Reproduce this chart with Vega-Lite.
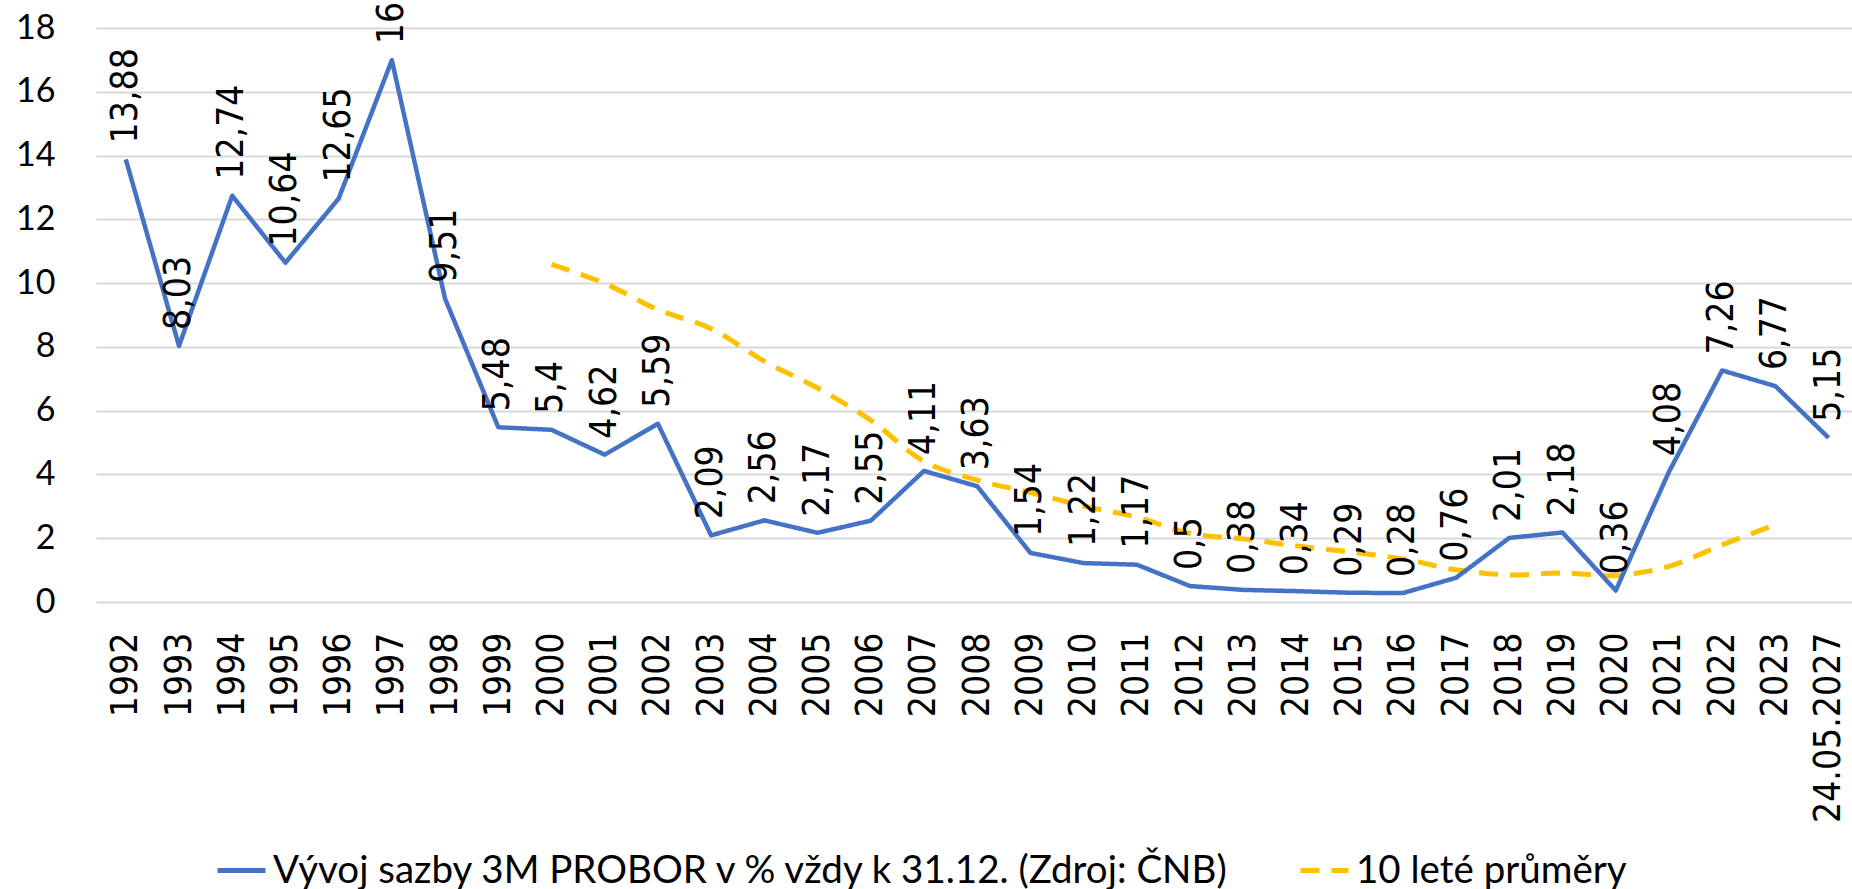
{
  "$schema": "https://vega.github.io/schema/vega-lite/v6.json",
  "width": 1756,
  "height": 574,
  "autosize": {"type": "none"},
  "padding": {"left": 96, "top": 28, "right": 0, "bottom": 287},
  "background": "white",
  "config": {
    "view": {"stroke": null},
    "legend": {
      "orient": "none",
      "legendX": 119,
      "legendY": 816,
      "direction": "horizontal",
      "title": null,
      "labelFont": "Lato",
      "labelFontSize": 38.5,
      "labelColor": "#000000",
      "labelLimit": 3000,
      "symbolType": "stroke",
      "symbolSize": 2304,
      "symbolStrokeWidth": 5,
      "labelOffset": 5,
      "columnPadding": 58
    }
  },
  "datasets": {
    "rates": [
      {"series": "Vývoj sazby 3M PROBOR v % vždy k 31.12. (Zdroj: ČNB)", "year": "1992", "value": 13.88, "label": "13,88"},
      {"series": "Vývoj sazby 3M PROBOR v % vždy k 31.12. (Zdroj: ČNB)", "year": "1993", "value": 8.03, "label": "8,03"},
      {"series": "Vývoj sazby 3M PROBOR v % vždy k 31.12. (Zdroj: ČNB)", "year": "1994", "value": 12.74, "label": "12,74"},
      {"series": "Vývoj sazby 3M PROBOR v % vždy k 31.12. (Zdroj: ČNB)", "year": "1995", "value": 10.64, "label": "10,64"},
      {"series": "Vývoj sazby 3M PROBOR v % vždy k 31.12. (Zdroj: ČNB)", "year": "1996", "value": 12.65, "label": "12,65"},
      {"series": "Vývoj sazby 3M PROBOR v % vždy k 31.12. (Zdroj: ČNB)", "year": "1997", "value": 16.99, "label": "16,99"},
      {"series": "Vývoj sazby 3M PROBOR v % vždy k 31.12. (Zdroj: ČNB)", "year": "1998", "value": 9.51, "label": "9,51"},
      {"series": "Vývoj sazby 3M PROBOR v % vždy k 31.12. (Zdroj: ČNB)", "year": "1999", "value": 5.48, "label": "5,48"},
      {"series": "Vývoj sazby 3M PROBOR v % vždy k 31.12. (Zdroj: ČNB)", "year": "2000", "value": 5.4, "label": "5,4"},
      {"series": "Vývoj sazby 3M PROBOR v % vždy k 31.12. (Zdroj: ČNB)", "year": "2001", "value": 4.62, "label": "4,62"},
      {"series": "Vývoj sazby 3M PROBOR v % vždy k 31.12. (Zdroj: ČNB)", "year": "2002", "value": 5.59, "label": "5,59"},
      {"series": "Vývoj sazby 3M PROBOR v % vždy k 31.12. (Zdroj: ČNB)", "year": "2003", "value": 2.09, "label": "2,09"},
      {"series": "Vývoj sazby 3M PROBOR v % vždy k 31.12. (Zdroj: ČNB)", "year": "2004", "value": 2.56, "label": "2,56"},
      {"series": "Vývoj sazby 3M PROBOR v % vždy k 31.12. (Zdroj: ČNB)", "year": "2005", "value": 2.17, "label": "2,17"},
      {"series": "Vývoj sazby 3M PROBOR v % vždy k 31.12. (Zdroj: ČNB)", "year": "2006", "value": 2.55, "label": "2,55"},
      {"series": "Vývoj sazby 3M PROBOR v % vždy k 31.12. (Zdroj: ČNB)", "year": "2007", "value": 4.11, "label": "4,11"},
      {"series": "Vývoj sazby 3M PROBOR v % vždy k 31.12. (Zdroj: ČNB)", "year": "2008", "value": 3.63, "label": "3,63"},
      {"series": "Vývoj sazby 3M PROBOR v % vždy k 31.12. (Zdroj: ČNB)", "year": "2009", "value": 1.54, "label": "1,54"},
      {"series": "Vývoj sazby 3M PROBOR v % vždy k 31.12. (Zdroj: ČNB)", "year": "2010", "value": 1.22, "label": "1,22"},
      {"series": "Vývoj sazby 3M PROBOR v % vždy k 31.12. (Zdroj: ČNB)", "year": "2011", "value": 1.17, "label": "1,17"},
      {"series": "Vývoj sazby 3M PROBOR v % vždy k 31.12. (Zdroj: ČNB)", "year": "2012", "value": 0.5, "label": "0,5"},
      {"series": "Vývoj sazby 3M PROBOR v % vždy k 31.12. (Zdroj: ČNB)", "year": "2013", "value": 0.38, "label": "0,38"},
      {"series": "Vývoj sazby 3M PROBOR v % vždy k 31.12. (Zdroj: ČNB)", "year": "2014", "value": 0.34, "label": "0,34"},
      {"series": "Vývoj sazby 3M PROBOR v % vždy k 31.12. (Zdroj: ČNB)", "year": "2015", "value": 0.29, "label": "0,29"},
      {"series": "Vývoj sazby 3M PROBOR v % vždy k 31.12. (Zdroj: ČNB)", "year": "2016", "value": 0.28, "label": "0,28"},
      {"series": "Vývoj sazby 3M PROBOR v % vždy k 31.12. (Zdroj: ČNB)", "year": "2017", "value": 0.76, "label": "0,76"},
      {"series": "Vývoj sazby 3M PROBOR v % vždy k 31.12. (Zdroj: ČNB)", "year": "2018", "value": 2.01, "label": "2,01"},
      {"series": "Vývoj sazby 3M PROBOR v % vždy k 31.12. (Zdroj: ČNB)", "year": "2019", "value": 2.18, "label": "2,18"},
      {"series": "Vývoj sazby 3M PROBOR v % vždy k 31.12. (Zdroj: ČNB)", "year": "2020", "value": 0.36, "label": "0,36"},
      {"series": "Vývoj sazby 3M PROBOR v % vždy k 31.12. (Zdroj: ČNB)", "year": "2021", "value": 4.08, "label": "4,08"},
      {"series": "Vývoj sazby 3M PROBOR v % vždy k 31.12. (Zdroj: ČNB)", "year": "2022", "value": 7.26, "label": "7,26"},
      {"series": "Vývoj sazby 3M PROBOR v % vždy k 31.12. (Zdroj: ČNB)", "year": "2023", "value": 6.77, "label": "6,77"},
      {"series": "Vývoj sazby 3M PROBOR v % vždy k 31.12. (Zdroj: ČNB)", "year": "24.05.2027", "value": 5.15, "label": "5,15"}
    ],
    "averages": [
      {"series": "10 leté průměry", "year": "2000", "value": 10.59},
      {"series": "10 leté průměry", "year": "2001", "value": 9.99},
      {"series": "10 leté průměry", "year": "2002", "value": 9.17},
      {"series": "10 leté průměry", "year": "2003", "value": 8.57},
      {"series": "10 leté průměry", "year": "2004", "value": 7.55},
      {"series": "10 leté průměry", "year": "2005", "value": 6.71},
      {"series": "10 leté průměry", "year": "2006", "value": 5.7},
      {"series": "10 leté průměry", "year": "2007", "value": 4.41},
      {"series": "10 leté průměry", "year": "2008", "value": 3.82},
      {"series": "10 leté průměry", "year": "2009", "value": 3.43},
      {"series": "10 leté průměry", "year": "2010", "value": 3.01},
      {"series": "10 leté průměry", "year": "2011", "value": 2.66},
      {"series": "10 leté průměry", "year": "2012", "value": 2.15},
      {"series": "10 leté průměry", "year": "2013", "value": 1.98},
      {"series": "10 leté průměry", "year": "2014", "value": 1.76},
      {"series": "10 leté průměry", "year": "2015", "value": 1.57},
      {"series": "10 leté průměry", "year": "2016", "value": 1.35},
      {"series": "10 leté průměry", "year": "2017", "value": 1.01},
      {"series": "10 leté průměry", "year": "2018", "value": 0.85},
      {"series": "10 leté průměry", "year": "2019", "value": 0.91},
      {"series": "10 leté průměry", "year": "2020", "value": 0.83},
      {"series": "10 leté průměry", "year": "2021", "value": 1.12},
      {"series": "10 leté průměry", "year": "2022", "value": 1.79},
      {"series": "10 leté průměry", "year": "2023", "value": 2.43}
    ]
  },
  "encoding": {
    "x": {
      "field": "year",
      "type": "nominal",
      "sort": null,
      "scale": {
        "type": "point",
        "domain": ["1992","1993","1994","1995","1996","1997","1998","1999","2000","2001","2002","2003","2004","2005","2006","2007","2008","2009","2010","2011","2012","2013","2014","2015","2016","2017","2018","2019","2020","2021","2022","2023","24.05.2027"],
        "paddingOuter": 0.43,
        "align": 0.56
      },
      "axis": {
        "title": null,
        "labelAngle": 270,
        "labelAlign": "right",
        "labelBaseline": "middle",
        "labelPadding": 30,
        "labelFont": "DejaVu Sans Condensed, DejaVu Sans",
        "labelFontSize": 37,
        "labelColor": "#000000",
        "labelLimit": 600,
        "ticks": false,
        "domain": false,
        "grid": false,
        "labelOverlap": false
      }
    },
    "y": {
      "field": "value",
      "type": "quantitative",
      "scale": {"domain": [0, 18], "nice": false, "zero": true},
      "axis": {
        "title": null,
        "values": [0, 2, 4, 6, 8, 10, 12, 14, 16, 18],
        "labelFont": "Lato",
        "labelFontSize": 34,
        "labelColor": "#000000",
        "labelPadding": 41,
        "ticks": false,
        "domain": false,
        "grid": true,
        "gridColor": "#d9d9d9",
        "gridWidth": 2
      }
    }
  },
  "layer": [
    {
      "data": {"name": "averages"},
      "mark": {"type": "line", "interpolate": "catmull-rom", "strokeWidth": 5, "strokeCap": "butt"},
      "encoding": {
        "color": {
          "field": "series",
          "type": "nominal",
          "scale": {"domain": ["Vývoj sazby 3M PROBOR v % vždy k 31.12. (Zdroj: ČNB)", "10 leté průměry"], "range": ["#4472C4", "#FFC000"]}
        },
        "strokeDash": {
          "field": "series",
          "type": "nominal",
          "scale": {"domain": ["Vývoj sazby 3M PROBOR v % vždy k 31.12. (Zdroj: ČNB)", "10 leté průměry"], "range": [[1, 0], [19, 12]]}
        }
      }
    },
    {
      "data": {"name": "rates"},
      "mark": {"type": "line", "interpolate": "linear", "strokeWidth": 4.5, "strokeJoin": "round"},
      "encoding": {
        "color": {"field": "series", "type": "nominal"},
        "strokeDash": {"field": "series", "type": "nominal"}
      }
    },
    {
      "data": {"name": "rates"},
      "mark": {
        "type": "text",
        "angle": 270,
        "align": "left",
        "baseline": "middle",
        "dx": 16,
        "font": "DejaVu Sans Condensed, DejaVu Sans",
        "fontSize": 37,
        "color": "#000000"
      },
      "encoding": {
        "text": {"field": "label", "type": "nominal"}
      }
    }
  ]
}
